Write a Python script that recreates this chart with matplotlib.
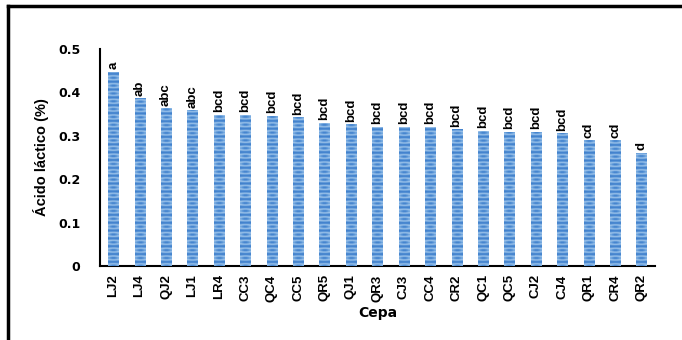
import numpy as np
import matplotlib
matplotlib.use("Agg")
import matplotlib.pyplot as plt
from matplotlib.lines import Line2D
from matplotlib.colors import LinearSegmentedColormap

cepas = ["LJ2", "LJ4", "QJ2", "LJ1", "LR4", "CC3", "QC4", "CC5", "QR5", "QJ1", "QR3",
         "CJ3", "CC4", "CR2", "QC1", "QC5", "CJ2", "CJ4", "QR1", "CR4", "QR2"]
acido = [0.447, 0.386, 0.363, 0.359, 0.348, 0.348, 0.346, 0.343, 0.330, 0.326, 0.320,
         0.320, 0.320, 0.315, 0.312, 0.309, 0.309, 0.306, 0.290, 0.290, 0.261]
letras = ["a", "ab", "abc", "abc"] + ["bcd"] * 14 + ["cd", "cd", "d"]
yticks = [0, 0.1, 0.2, 0.3, 0.4, 0.5]
ytick_labels = ["0", "0.1", "0.2", "0.3", "0.4", "0.5"]

plt.rcParams["font.family"] = ["Liberation Sans", "DejaVu Sans"]

fig = plt.figure(figsize=(6.82, 3.40), dpi=100)
ax = fig.add_axes([0.1466, 0.2176, 0.8134, 0.6384])

x = np.arange(len(cepas))
bars = ax.bar(x, acido, width=0.38, color="#5b9bd5", linewidth=0, zorder=2)

# horizontal banded fill, like the office "striped" bar texture
cmap = LinearSegmentedColormap.from_list("banda", ["#3f7fcc", "#6fa6de", "#b3d0ef", "#6fa6de", "#3f7fcc"])
rows = np.linspace(0, 1, 400)
for b in bars:
    x0, w, h = b.get_x(), b.get_width(), b.get_height()
    n = h / 0.018
    band = (np.cos(2 * np.pi * n * rows[::-1]) + 1) / 2
    img = np.tile(band[:, None], (1, 6))
    horiz = 0.75 + 0.25 * np.sin(np.linspace(0, np.pi, 6))
    im = ax.imshow(img * horiz[None, :], extent=[x0, x0 + w, 0, h], aspect="auto",
                   cmap=cmap, vmin=0, vmax=1, zorder=3, interpolation="bilinear")
    im.set_clip_path(b)

for xi, v, l in zip(x, acido, letras):
    ax.text(xi, v + 0.006, l, rotation=90, ha="center", va="bottom",
            fontsize=9.5, fontweight="bold", zorder=4)

ax.set_xlim(-0.5, len(cepas) - 0.5)
ax.set_ylim(0, 0.5)
ax.set_yticks(yticks)
ax.set_yticklabels(ytick_labels, fontsize=9, fontweight="bold", family="DejaVu Sans")
ax.set_xticks(x)
ax.set_xticklabels(cepas, rotation=90, fontsize=9.5, fontweight="bold")
ax.tick_params(axis="y", length=0, pad=14)
ax.tick_params(axis="x", length=0, pad=6)
for s in ["top", "right"]:
    ax.spines[s].set_visible(False)
ax.spines["left"].set_linewidth(1.5)
ax.spines["bottom"].set_linewidth(1.5)

ax.set_ylabel("Ácido láctico (%)", fontsize=10.5, fontweight="bold", labelpad=7)
ax.set_xlabel("Cepa", fontsize=10, fontweight="bold", family="DejaVu Sans", labelpad=3)

# outer frame, open on the right and bottom
fig.add_artist(Line2D([8 / 682, 1.0], [1 - 6 / 340, 1 - 6 / 340], color="black", lw=2.5,
                      transform=fig.transFigure))
fig.add_artist(Line2D([8 / 682, 8 / 682], [0.0, 1 - 6 / 340], color="black", lw=2.5,
                      transform=fig.transFigure))

fig.savefig("out.png", dpi=100)
